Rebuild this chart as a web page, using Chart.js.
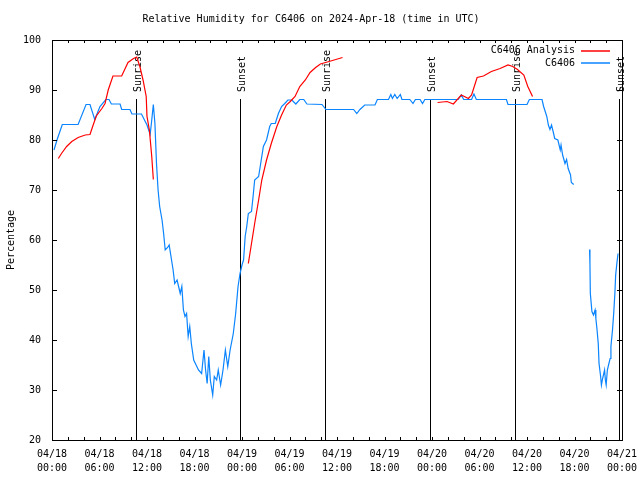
<!DOCTYPE html>
<html>
<head>
<meta charset="utf-8">
<script src="https://cdn.jsdelivr.net/npm/chart.js@4/dist/chart.umd.min.js"></script>
<style>
  html, body { margin: 0; padding: 0; background: #fff; }
  canvas { display: block; }
</style>
</head>
<body>
<canvas id="rh" width="640" height="480"></canvas>
<script>
// hours since 2024-04-18 00:00 UTC
const obsHours = [0.25, 0.67, 1.3, 3.3, 4.3, 4.8, 5.4, 6.06, 6.8, 7.2, 7.5, 8.6, 8.8, 9.85, 10.1, 11.3,
  12.0, 12.4, 12.6, 12.8, 13.0, 13.2, 13.4, 13.6, 13.9, 14.1, 14.3, 14.6, 14.8, 15.1, 15.3, 15.5, 15.8,
  16.2, 16.4, 16.6, 16.8, 17.0, 17.2, 17.4, 17.6, 17.9, 18.5, 18.9, 19.2, 19.4, 19.6, 19.8, 20.0, 20.3,
  20.5, 20.8, 21.0, 21.3, 21.6, 21.9, 22.2, 22.5, 22.9, 23.2, 23.5, 23.75, 24.0, 24.2, 24.4, 24.6, 24.8,
  25.2, 25.4, 25.6, 26.1, 26.3, 26.7, 27.1, 27.5, 27.7, 28.2, 28.6, 29.0, 29.4, 29.8, 30.3, 30.8, 31.3,
  31.8, 32.2, 34.1, 34.6, 38.1, 38.5, 38.9, 39.5, 40.8, 41.1, 42.5, 42.8, 43.0, 43.3, 43.6, 44.0, 44.2,
  45.2, 45.6, 45.9, 46.5, 46.8, 47.1, 51.3, 51.7, 52.0, 53.0, 53.3, 53.6, 57.4, 57.6, 60.0, 60.3, 61.9,
  62.1, 62.5, 62.7, 62.9, 63.1, 63.3, 63.5, 63.9, 64.2, 64.3, 64.5, 64.8, 65.0, 65.2, 65.5, 65.6, 65.9,
  66.9,
  67.9, 67.95, 68.0, 68.2, 68.4, 68.6, 68.7, 68.85, 69.0, 69.1, 69.3, 69.4, 69.55, 69.7, 69.8, 69.9,
  70.0, 70.15, 70.3, 70.5, 70.6, 70.8, 70.95, 71.1, 71.2, 71.35, 71.5];
const obsValues = [78, 80.2, 83.1, 83.1, 87.1, 87.1, 84.1, 86.7, 88.1, 88.1, 87.2, 87.2, 86.1, 86.1, 85.2, 85.2,
  83, 81.1, 84, 87.1, 83.3, 75.3, 70, 66.7, 64, 61.3, 58, 58.5, 59, 56, 54, 51.3, 52,
  49.3, 50.7, 46, 44.7, 45.3, 40.7, 42.7, 39.3, 36, 34, 33.3, 38, 34, 31.3, 36.7, 32, 29,
  32.7, 32, 34, 31, 34, 38, 34.7, 38, 41.3, 45.3, 50.7, 53.3, 55, 56, 60.7, 62.7, 65.3,
  65.7, 68.7, 72, 72.7, 74.7, 78.7, 80, 82.7, 83.3, 83.3, 85.3, 86.7, 87.3, 88, 88, 87.2, 88.1,
  88.1, 87.2, 87.1, 86.1, 86.1, 85.3, 86.1, 87, 87, 88.1, 88.1, 89.1, 88.3, 89.1, 88.3, 89.1, 88.1,
  88.1, 87.3, 88.1, 88.1, 87.3, 88.1, 88.1, 89, 88.1, 88.1, 89.2, 88.1, 88.1, 87.1, 87.1, 88.1, 88.1,
  86.7, 84.7, 83, 82.1, 83, 81.7, 80.3, 80, 78, 79, 77, 75.3, 76.1, 74.3, 73, 71.5, 71.1,
  null,
  58.1, 55.3, 49.3, 45.7, 45, 46, 44.3, 42, 39.3, 35.3, 32.7, 31, 32.3, 33.3, 34, 32,
  31, 34, 35, 36.3, 38.7, 42, 45.3, 49.3, 53, 55.3, 57.3];

const anaHours = [0.8, 1.2, 1.85, 2.5, 3.3, 4.2, 4.8, 5.2, 5.6, 6.3, 6.7, 7.1, 7.7, 8.8, 9.6, 10.3, 10.7,
  11.1, 11.5, 11.9, 12.0, 12.3, 12.6, 12.8,
  18.0,
  24.8, 25.2, 25.6, 26.1, 26.5, 27.1, 27.7, 28.4, 29.0, 29.6, 30.1, 30.7, 31.3, 32.0, 32.6, 33.3, 33.9,
  35.0, 36.7,
  42.0,
  48.7, 49.9, 50.7, 51.7, 52.6, 53.0, 53.7, 54.5, 55.5, 56.6, 57.6, 58.2, 58.8, 59.6, 60.1, 60.7];
const anaValues = [76.3, 77.3, 78.7, 79.7, 80.5, 81, 81.1, 83, 84.8, 86.3, 87.3, 90, 92.8, 92.8, 95.5, 96.3, 96.6,
  94.7, 92, 88.7, 84.7, 82, 76.7, 72.1,
  null,
  55.3, 59.3, 63.3, 68, 72, 76, 79.3, 82.7, 85, 87, 87.7, 88.7, 90.7, 92, 93.5, 94.5, 95.2,
  95.7, 96.5,
  null,
  87.5, 87.7, 87.2, 89, 88.3, 89, 92.5, 92.8, 93.7, 94.3, 95, 94.7, 94.1, 93, 90.7, 88.7];

const sunHours = [10.65, 23.78, 34.52, 47.78, 58.52, 71.66];
const sunLabels = ['Sunrise', 'Sunset', 'Sunrise', 'Sunset', 'Sunrise', 'Sunset'];
const sunTop = 88.2;

const xTickHours = [0, 6, 12, 18, 24, 30, 36, 42, 48, 54, 60, 66, 72];
const xTickLabels = [['04/18', '00:00'], ['04/18', '06:00'], ['04/18', '12:00'], ['04/18', '18:00'],
  ['04/19', '00:00'], ['04/19', '06:00'], ['04/19', '12:00'], ['04/19', '18:00'],
  ['04/20', '00:00'], ['04/20', '06:00'], ['04/20', '12:00'], ['04/20', '18:00'], ['04/21', '00:00']];
const xMinorStep = 2;
const yTicks = [20, 30, 40, 50, 60, 70, 80, 90, 100];

const FONT = { family: 'DejaVu Sans Mono', size: 10, weight: 'normal' };
const BLUE = '#0a84ff';
const RED = '#ff0000';

function toPoints(xs, ys) {
  return xs.map((x, i) => ({ x: x, y: ys[i] }));
}

// box, inward tics, sunrise/sunset markers and the inside legend (gnuplot style)
const gnuplotBits = {
  id: 'gnuplotBits',
  beforeDatasetsDraw(chart) {
    const ctx = chart.ctx;
    const xs = chart.scales.x, ys = chart.scales.y;
    ctx.save();
    ctx.strokeStyle = '#000';
    ctx.lineWidth = 1;
    ctx.fillStyle = '#000';
    ctx.font = FONT.size + 'px ' + FONT.family;
    sunHours.forEach((h, i) => {
      const px = Math.round(xs.getPixelForValue(h)) + 0.5;
      ctx.beginPath();
      ctx.moveTo(px, ys.getPixelForValue(20));
      ctx.lineTo(px, ys.getPixelForValue(sunTop));
      ctx.stroke();
      ctx.save();
      ctx.translate(px + 1.5, ys.getPixelForValue(sunTop) - 7);
      ctx.rotate(-Math.PI / 2);
      ctx.textAlign = 'left';
      ctx.textBaseline = 'middle';
      ctx.fillText(sunLabels[i], 0, 0);
      ctx.restore();
    });
    ctx.restore();
  },
  afterDatasetsDraw(chart) {
    const ctx = chart.ctx;
    const a = chart.chartArea;
    const xs = chart.scales.x, ys = chart.scales.y;
    ctx.save();
    ctx.strokeStyle = '#000';
    ctx.lineWidth = 1;
    ctx.beginPath();
    for (let h = xMinorStep; h < 72; h += xMinorStep) {
      const px = Math.round(xs.getPixelForValue(h)) + 0.5;
      ctx.moveTo(px, a.bottom); ctx.lineTo(px, a.bottom - 3);
      ctx.moveTo(px, a.top); ctx.lineTo(px, a.top + 3);
    }
    yTicks.forEach(v => {
      const py = Math.round(ys.getPixelForValue(v)) + 0.5;
      ctx.moveTo(a.left, py); ctx.lineTo(a.left + 5, py);
      ctx.moveTo(a.right, py); ctx.lineTo(a.right - 5, py);
    });
    ctx.stroke();
    ctx.strokeRect(Math.round(a.left) + 0.5, Math.round(a.top) + 0.5,
      Math.round(a.right - a.left), Math.round(a.bottom - a.top));

    // legend, text right aligned, sample line to the right
    ctx.font = FONT.size + 'px ' + FONT.family;
    ctx.textAlign = 'right';
    ctx.textBaseline = 'middle';
    ctx.lineWidth = 1.5;
    chart.data.datasets.forEach((ds, i) => {
      const y = a.top + 10.5 + i * 12.5;
      ctx.fillStyle = '#000';
      ctx.fillText(ds.label, a.right - 47, y);
      ctx.strokeStyle = ds.borderColor;
      ctx.beginPath();
      ctx.moveTo(a.right - 41, Math.round(y));
      ctx.lineTo(a.right - 12, Math.round(y));
      ctx.stroke();
    });
    ctx.restore();
  }
};

new Chart(document.getElementById('rh'), {
  type: 'line',
  data: {
    datasets: [
      {
        label: 'C6406 Analysis',
        data: toPoints(anaHours, anaValues),
        borderColor: RED,
        borderWidth: 1.2,
        pointRadius: 0,
        tension: 0,
        spanGaps: false
      },
      {
        label: 'C6406',
        data: toPoints(obsHours, obsValues),
        borderColor: BLUE,
        borderWidth: 1.2,
        pointRadius: 0,
        tension: 0,
        spanGaps: false
      }
    ]
  },
  options: {
    responsive: false,
    devicePixelRatio: 1,
    animation: false,
    layout: { padding: { left: 0, right: 18, top: 0, bottom: 0 } },
    scales: {
      x: {
        type: 'linear',
        min: 0,
        max: 72,
        grid: { display: false, drawTicks: false },
        border: { display: false },
        afterBuildTicks: (scale) => { scale.ticks = xTickHours.map(v => ({ value: v })); },
        afterFit: (scale) => {
          scale.height = 40;
          scale.paddingLeft = 0;
          scale.paddingRight = 0;
        },
        ticks: {
          autoSkip: false,
          maxRotation: 0,
          padding: 7,
          color: '#000',
          font: { family: FONT.family, size: FONT.size, lineHeight: 1.4 },
          callback: (v) => {
            const i = xTickHours.indexOf(v);
            return i >= 0 ? xTickLabels[i] : '';
          }
        }
      },
      y: {
        min: 20,
        max: 100,
        grid: { display: false, drawTicks: false },
        border: { display: false },
        afterBuildTicks: (scale) => { scale.ticks = yTicks.map(v => ({ value: v })); },
        afterFit: (scale) => { scale.width = 52; },
        ticks: { padding: 11, color: '#000', font: FONT },
        title: {
          display: true,
          text: 'Percentage',
          color: '#000',
          font: FONT,
          padding: { top: 5, bottom: 0 }
        }
      }
    },
    plugins: {
      legend: { display: false },
      tooltip: { enabled: false },
      title: {
        display: true,
        text: 'Relative Humidity for C6406 on 2024-Apr-18 (time in UTC)',
        color: '#000',
        font: FONT,
        padding: { top: 13, bottom: 15 }
      }
    }
  },
  plugins: [gnuplotBits]
});
</script>
</body>
</html>
